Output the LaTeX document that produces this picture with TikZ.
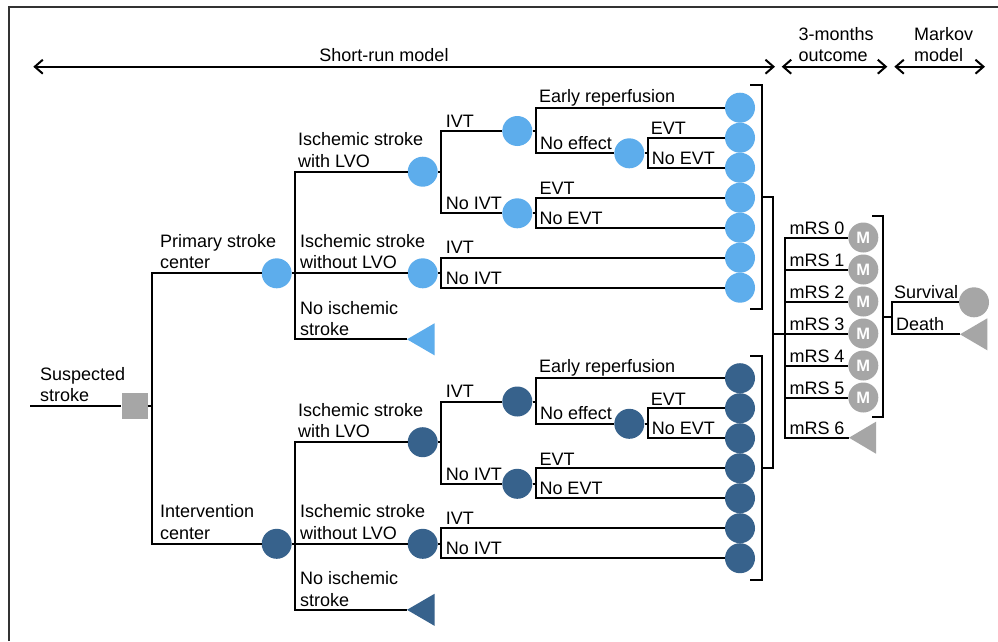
\documentclass[tikz,border=0pt]{standalone}
\usepackage{fontspec}
\setmainfont{Liberation Sans}
\usetikzlibrary{arrows.meta,calc}
\definecolor{lblue}{RGB}{93,173,236}
\definecolor{dblue}{RGB}{55,98,140}
\definecolor{gry}{RGB}{166,166,166}
\definecolor{frm}{RGB}{50,50,50}
\tikzset{
  conn/.style={line width=2pt, black},
  chance/.style={circle, fill=#1, draw=none, minimum size=30pt, inner sep=0pt},
  lbl/.style={anchor=base west, inner sep=0pt, font=\fontsize{18}{21.5}\selectfont, align=left},
  span/.style={line width=2pt, {Straight Barb[length=8pt,width=14pt]}-{Straight Barb[length=8pt,width=14pt]}},
  mnode/.style={circle, fill=gry, draw=none, minimum size=30pt, inner sep=0pt, text=white, font=\fontsize{16.5}{16.5}\selectfont\bfseries},
  bracket/.style={line width=2pt, black},
}
\newcommand\subtree[4]{% #1 prefix, #2 colour, #3 y0, #4 label of centre
\begin{scope}[shift={(0,#3)}]
  \node[chance=#2] (#1c) at (276.7,0) {};
  \node[chance=#2] (#1lvo) at (422.7,-101.6) {};
  \node[chance=#2] (#1wo) at (422.7,0) {};
  \coordinate (#1nis) at (407,66);
  \fill[#2] (#1nis) -- ++(27.5,-16) -- ++(0,32) -- cycle;
  \node[chance=#2] (#1ivt) at (517.3,-142.3) {};
  \node[chance=#2] (#1nivt) at (517.3,-60) {};
  \node[chance=#2] (#1ne) at (629.3,-120) {};
  \node[chance=#2] (#1t1) at (740,-165.6) {};
  \node[chance=#2] (#1t2) at (740,-135.6) {};
  \node[chance=#2] (#1t3) at (740,-105.6) {};
  \node[chance=#2] (#1t4) at (740,-75.6) {};
  \node[chance=#2] (#1t5) at (740,-45.6) {};
  \node[chance=#2] (#1t6) at (740,-15.6) {};
  \node[chance=#2] (#1t7) at (740,14.4) {};
  % connectors
  \draw[conn] (#1c.east) -- ++(3.5,0) coordinate (#1cj);
  \draw[conn] (#1lvo.west) -| (#1cj) |- (#1nis);
  \draw[conn] (#1cj) -- (#1wo.west);
  \draw[conn] (#1lvo.east) -- ++(3,0) coordinate (#1lj);
  \draw[conn] (#1ivt.west) -| (#1lj) |- (#1nivt.west);
  \draw[conn] (#1ivt.east) -- ++(3,0) coordinate (#1ij);
  \draw[conn] (#1t1.west) -| (#1ij) |- (#1ne.west);
  \draw[conn] (#1ne.east) -- ++(3,0) coordinate (#1nej);
  \draw[conn] (#1t2.west) -| (#1nej) |- (#1t3.west);
  \draw[conn] (#1nivt.east) -- ++(3,0) coordinate (#1nj);
  \draw[conn] (#1t4.west) -| (#1nj) |- (#1t5.west);
  \draw[conn] (#1wo.east) -- ++(3,0) coordinate (#1wj);
  \draw[conn] (#1t6.west) -| (#1wj) |- (#1t7.west);
  % bracket
  \draw[bracket] (750,-188.3) -| (761.7,35.7) -- (750,35.7);
  \coordinate (#1bm) at (761.7,-76);
  % labels
  \node[lbl] (#1lc) at (160,-4.5) {#4};
  \node[lbl] (#1llvo) at (298,-106.1) {Ischemic stroke\\with LVO};
  \node[lbl] (#1lwo) at (300,-4.8) {Ischemic stroke\\without LVO};
  \node[lbl] (#1lnis) at (300,62.5) {No ischemic\\stroke};
  \node[lbl] (#1livt) at (445.7,-146.3) {IVT};
  \node[lbl] (#1lnivt) at (445.7,-63.5) {No IVT};
  \node[lbl] (#1ler) at (539,-171.1) {Early reperfusion};
  \node[lbl] (#1lne) at (540,-124) {No effect};
  \node[lbl] (#1levta) at (650.7,-138.6) {EVT};
  \node[lbl] (#1lnevta) at (651.7,-108.9) {No EVT};
  \node[lbl] (#1levtb) at (539.3,-78.6) {EVT};
  \node[lbl] (#1lnevtb) at (539.3,-49.1) {No EVT};
  \node[lbl] (#1livtb) at (445.7,-19.6) {IVT};
  \node[lbl] (#1lnivtb) at (445.7,10.7) {No IVT};
\end{scope}}

\begin{document}
\begin{tikzpicture}[x=1pt,y=-1pt]
\useasboundingbox (0,0) rectangle (998,641);
\fill[white] (0,0) rectangle (998,641);
% frame
\draw[frm, line width=2pt] (9.3,641) -- (9.3,7) -- (998,7);

% top spans
\coordinate (sr1) at (33.3,66.7);
\coordinate (sr2) at (775,66.7);
\coordinate (tm1) at (781.7,66.7);
\coordinate (tm2) at (887.3,66.7);
\coordinate (mk1) at (894.3,66.7);
\coordinate (mk2) at (985,66.7);
\draw[span] (sr1) -- (sr2);
\draw[span] (tm1) -- (tm2);
\draw[span] (mk1) -- (mk2);
\node[lbl, anchor=base] (tsr) at (384,61.5) {Short-run model};
\node[lbl] (ttm) at (798.3,61.5) {3-months\\outcome};
\node[lbl] (tmk) at (914,61.5) {Markov\\model};

% root
\node[rectangle, fill=gry, minimum size=26pt, inner sep=0pt] (root) at (134.5,405.7) {};
\coordinate (start) at (30,405.7);
\draw[conn] (start) -- (root.west);
\node[lbl] (lroot) at (40,401.7) {Suspected\\stroke};

\subtree{u}{lblue}{273.3}{Primary stroke\\center}
\subtree{d}{dblue}{543.8}{Intervention\\center}

\draw[conn] (root.east) -- ++(4.4,0) coordinate (rootj);
\draw[conn] (uc.west) -| (rootj) |- (dc.west);

% 3-month outcomes
\node[mnode] (m0) at (863.3,237.5) {M};
\node[mnode] (m1) at (863.3,269.5) {M};
\node[mnode] (m2) at (863.3,301.5) {M};
\node[mnode] (m3) at (863.3,333.5) {M};
\node[mnode] (m4) at (863.3,365.5) {M};
\node[mnode] (m5) at (863.3,397.5) {M};
\coordinate (m6) at (849,437.7);
\fill[gry] (m6) -- ++(27,-16) -- ++(0,32) -- cycle;

\coordinate (mj) at (773.3,333.5);
\coordinate (rj) at (785,333.5);
\draw[conn] (ubm) -| (mj);
\draw[conn] (dbm) -| (mj);
\draw[conn] (mj) -- (rj);
\draw[conn] (m0.west) -| (rj) |- (m6);
\foreach \k in {1,...,5} \draw[conn] (rj) |- (m\k.west);

\node[lbl] (lm0) at (789.3,234.5) {mRS 0};
\node[lbl] (lm1) at (789.3,266.5) {mRS 1};
\node[lbl] (lm2) at (789.3,298.5) {mRS 2};
\node[lbl] (lm3) at (789.3,330.5) {mRS 3};
\node[lbl] (lm4) at (789.3,362.5) {mRS 4};
\node[lbl] (lm5) at (789.3,394.5) {mRS 5};
\node[lbl] (lm6) at (789.3,434.7) {mRS 6};

% Markov bracket
\draw[bracket] (872,216) -| (883.3,416.7) -- (872,416.7);
\coordinate (mbm) at (883.3,317.3);
\coordinate (sj) at (891.7,317.3);
\draw[conn] (mbm) -- (sj);
\node[mnode] (surv) at (974,302.3) {};
\coordinate (death) at (960,334.3);
\fill[gry] (death) -- ++(27.3,-16) -- ++(0,32) -- cycle;
\draw[conn] (surv.west) -| (sj) |- (death);
\node[lbl] (lsurv) at (894,298.3) {Survival};
\node[lbl] (ldeath) at (896,330.3) {Death};
\end{tikzpicture}
\end{document}
